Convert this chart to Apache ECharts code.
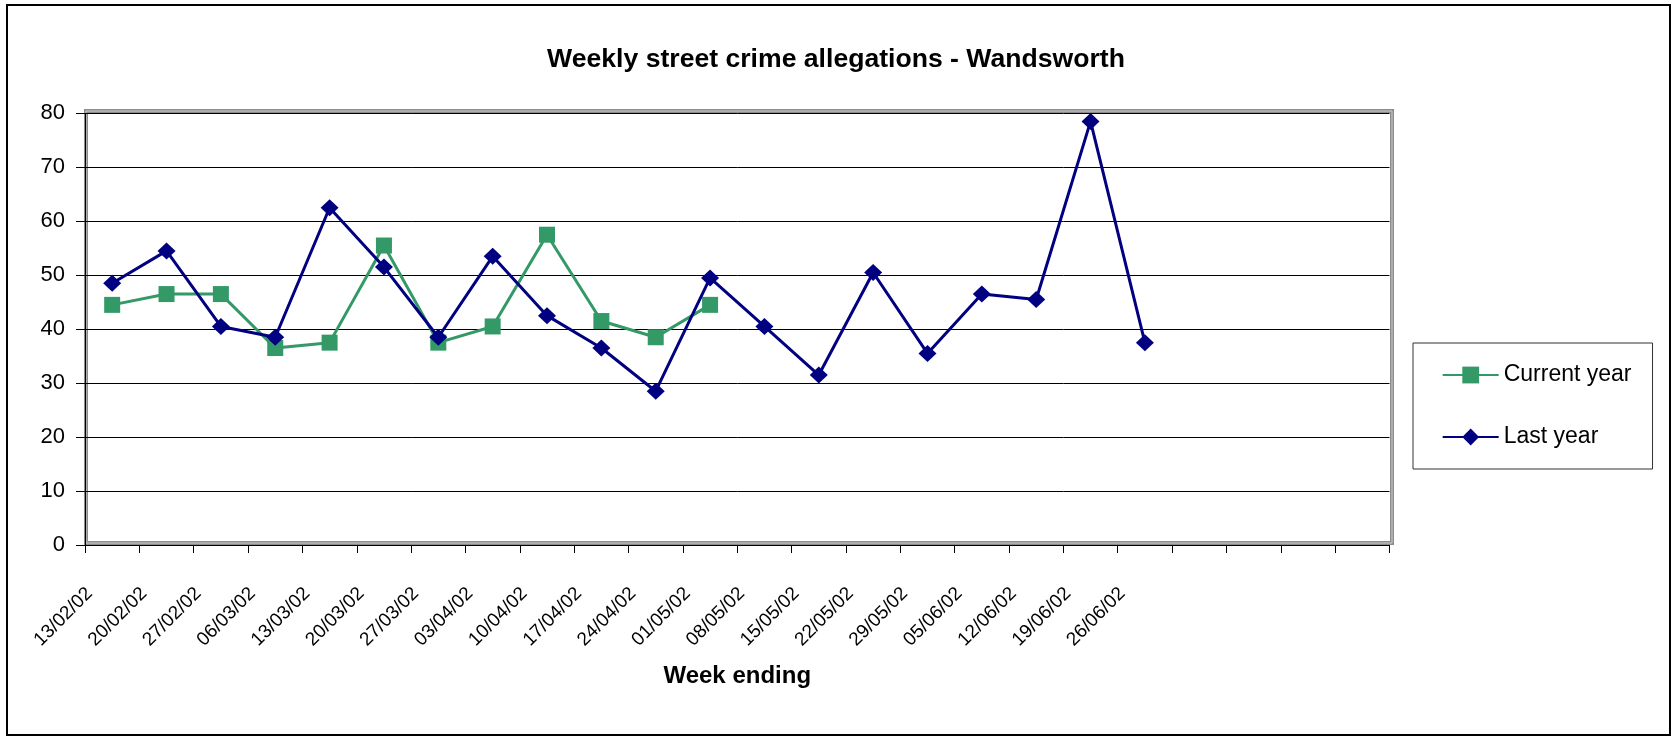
<!DOCTYPE html>
<html>
<head>
<meta charset="utf-8">
<script src="https://cdn.jsdelivr.net/npm/echarts@6/dist/echarts.min.js"></script>
<style>
html, body { margin: 0; padding: 0; background: #fff; }
#chart { width: 1672px; height: 736px; }
</style>
</head>
<body>
<div id="chart"></div>
<script>
// ---- data ----
const weekLabels = ['13/02/02','20/02/02','27/02/02','06/03/02','13/03/02','20/03/02','27/03/02',
  '03/04/02','10/04/02','17/04/02','24/04/02','01/05/02','08/05/02','15/05/02','22/05/02',
  '29/05/02','05/06/02','12/06/02','19/06/02','26/06/02'];
const blankSlots = ['', '', '', ''];
const currentYear = [44.5, 46.5, 46.5, 36.5, 37.5, 55.5, 37.5, 40.5, 57.5, 41.5, 38.5, 44.5];
const lastYear = [48.5, 54.5, 40.5, 38.5, 62.5, 51.5, 38.5, 53.5, 42.5, 36.5, 28.5, 49.5,
  40.5, 31.5, 50.5, 35.5, 46.5, 45.5, 78.5, 37.5];
const yTicks = { min: 0, max: 80, interval: 10 };

const categories = weekLabels.concat(blankSlots);
const FONT = "'Liberation Sans', Arial, sans-serif";

const chart = echarts.init(document.getElementById('chart'), null, { renderer: 'canvas' });
chart.setOption({
  animation: false,
  backgroundColor: '#fff',
  textStyle: { fontFamily: FONT },
  title: {
    text: 'Weekly street crime allegations - Wandsworth',
    left: 'center',
    top: 46,
    padding: [0, 0, 0, 9],
    textStyle: { fontFamily: FONT, fontSize: 26.6, fontWeight: 'bold', color: '#000', lineHeight: 27 }
  },
  graphic: [
    { type: 'rect', z: -1, silent: true,
      shape: { x: 7, y: 5, width: 1663, height: 730 },
      style: { fill: 'none', stroke: '#000', lineWidth: 2 } },
    { type: 'rect', z: -1, silent: true,
      shape: { x: 86, y: 111, width: 1306, height: 432 },
      style: { fill: 'none', stroke: '#8c8c8c', lineWidth: 4 } },
    { type: 'rect', z: -1, silent: true,
      shape: { x: 86, y: 111, width: 1306, height: 432 },
      style: { fill: 'none', stroke: '#cfcfcf', lineWidth: 1 } }
  ],
  grid: { left: 85, right: 282.5, top: 113.3, bottom: 191, containLabel: false },
  legend: {
    orient: 'vertical',
    left: 1413, top: 343,
    padding: [20.5, 21, 20.5, 28.7],
    itemGap: 39,
    itemWidth: 56,
    itemHeight: 21,
    borderColor: '#333',
    borderWidth: 1,
    textStyle: { fontFamily: FONT, fontSize: 23, color: '#000', lineHeight: 23 },
    data: ['Current year', 'Last year']
  },
  xAxis: {
    type: 'category',
    data: categories,
    boundaryGap: true,
    name: 'Week ending',
    nameLocation: 'middle',
    nameGap: 119,
    nameTextStyle: { fontFamily: FONT, fontSize: 24, fontWeight: 'bold', color: '#000' },
    axisLine: { show: true, lineStyle: { color: '#000', width: 1 } },
    axisTick: { show: true, length: 8, alignWithLabel: false, interval: 0, lineStyle: { color: '#000' } },
    axisLabel: {
      interval: 0, rotate: 45, margin: 23, padding: [0, 32, 0, 0],
      fontFamily: FONT, fontSize: 19, color: '#000'
    },
    splitLine: { show: false }
  },
  yAxis: {
    type: 'value',
    min: yTicks.min, max: yTicks.max, interval: yTicks.interval,
    axisLine: { show: true, lineStyle: { color: '#000', width: 1 } },
    axisTick: { show: true, length: 9, lineStyle: { color: '#000' } },
    axisLabel: { margin: 20, fontFamily: FONT, fontSize: 22, color: '#000' },
    splitLine: { show: true, lineStyle: { color: '#000', width: 1 } }
  },
  series: [
    {
      name: 'Current year', type: 'line', data: currentYear,
      symbol: 'rect', symbolSize: 16,
      lineStyle: { color: '#339966', width: 3 },
      itemStyle: { color: '#339966' },
      z: 3
    },
    {
      name: 'Last year', type: 'line', data: lastYear,
      symbol: 'diamond', symbolSize: [18, 17],
      lineStyle: { color: '#000080', width: 3 },
      itemStyle: { color: '#000080' },
      z: 4
    }
  ]
});
</script>
</body>
</html>
